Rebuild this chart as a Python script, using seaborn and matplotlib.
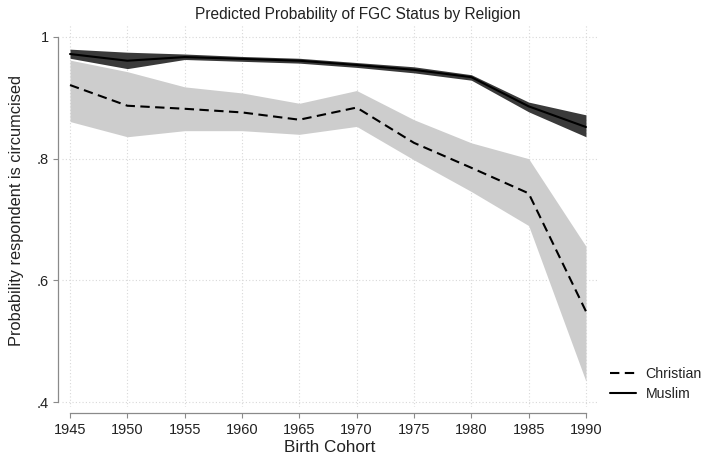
import numpy as np
import pandas as pd
import matplotlib
matplotlib.use("Agg")
import matplotlib.pyplot as plt
import seaborn as sns

# Birth cohorts and predicted probabilities with 95% bands
cohorts = [1945, 1950, 1955, 1960, 1965, 1970, 1975, 1980, 1985, 1990]

christian = [0.921, 0.887, 0.882, 0.876, 0.864, 0.884, 0.826, 0.785, 0.743, 0.549]
christian_lo = [0.861, 0.836, 0.846, 0.846, 0.840, 0.853, 0.798, 0.746, 0.690, 0.434]
christian_hi = [0.962, 0.943, 0.918, 0.908, 0.891, 0.912, 0.864, 0.826, 0.800, 0.656]

muslim = [0.972, 0.961, 0.967, 0.964, 0.961, 0.954, 0.946, 0.934, 0.886, 0.852]
muslim_lo = [0.965, 0.948, 0.963, 0.960, 0.957, 0.950, 0.941, 0.929, 0.877, 0.836]
muslim_hi = [0.980, 0.975, 0.972, 0.968, 0.965, 0.958, 0.951, 0.938, 0.893, 0.872]

religions = ["Christian", "Muslim"]
y_ticks = [0.4, 0.6, 0.8, 1.0]
y_tick_labels = [".4", ".6", ".8", "1"]
x_ticks = cohorts

df = pd.DataFrame({
    "cohort": cohorts * 2,
    "prob": christian + muslim,
    "lo": christian_lo + muslim_lo,
    "hi": christian_hi + muslim_hi,
    "religion": ["Christian"] * len(cohorts) + ["Muslim"] * len(cohorts),
})

sns.set_theme(style="white")
plt.rcParams["font.family"] = ["Liberation Sans", "DejaVu Sans"]

fig = plt.figure(figsize=(7.02, 4.63), dpi=100)
ax = fig.add_axes([62 / 702, 1 - 407 / 463, 536 / 702, 382 / 463])

# confidence bands
band_colors = {"Christian": "#cdcdcd", "Muslim": "#3a3a3a"}
for rel in religions:
    sub = df[df["religion"] == rel]
    ax.fill_between(sub["cohort"], sub["lo"], sub["hi"], color=band_colors[rel],
                    linewidth=0, zorder=2 if rel == "Christian" else 3)

sns.lineplot(data=df, x="cohort", y="prob", style="religion",
             style_order=religions,
             dashes={"Christian": (4.5, 2.6), "Muslim": ""},
             color="black", linewidth=1.5, ax=ax, zorder=4)

ax.set_xlim(1944.30, 1991.05)
ax.set_ylim(0.3918, 1.0197)
ax.set_xticks(x_ticks)
ax.set_yticks(y_ticks)
ax.set_yticklabels(y_tick_labels)

ax.grid(True, color="#d8d8d8", linestyle=(0, (1, 2)), linewidth=0.8, zorder=0)
ax.set_axisbelow(True)

for side in ["top", "right"]:
    ax.spines[side].set_visible(False)
ax.spines["left"].set_position(("outward", 2.9))
ax.spines["bottom"].set_position(("outward", 4.3))
ax.spines["left"].set_bounds(0.4, 1.0)
ax.spines["bottom"].set_bounds(1945, 1990)
for side in ["left", "bottom"]:
    ax.spines[side].set_color("#8a8a8a")
    ax.spines[side].set_linewidth(0.9)

ax.tick_params(axis="both", which="major", direction="out", length=3.5, width=0.8,
               color="#8a8a8a", labelsize=10.5, labelcolor="#222222", pad=3)
ax.tick_params(axis="x", bottom=True, pad=4)
ax.tick_params(axis="y", left=True, pad=3)

ax.set_xlabel("Birth Cohort", fontsize=12.3, color="#222222", labelpad=2)
ax.set_ylabel("Probability respondent is circumcised", fontsize=11.8, color="#222222")
ax.yaxis.set_label_coords((24 - 62) / 536, (407 - 211) / 382)
ax.set_title("Predicted Probability of FGC Status by Religion", fontsize=11.2,
             color="#222222", pad=4, x=(358 - 62) / 536)

leg = ax.legend(loc="center left", bbox_to_anchor=(610 / 702, 1 - 384 / 463),
                bbox_transform=fig.transFigure, frameon=False, fontsize=10.2,
                handlelength=1.8, handletextpad=0.7, labelspacing=0.45,
                borderpad=0, borderaxespad=0, title=None)
for txt in leg.get_texts():
    txt.set_color("#222222")

fig.savefig("out.png", dpi=100)
